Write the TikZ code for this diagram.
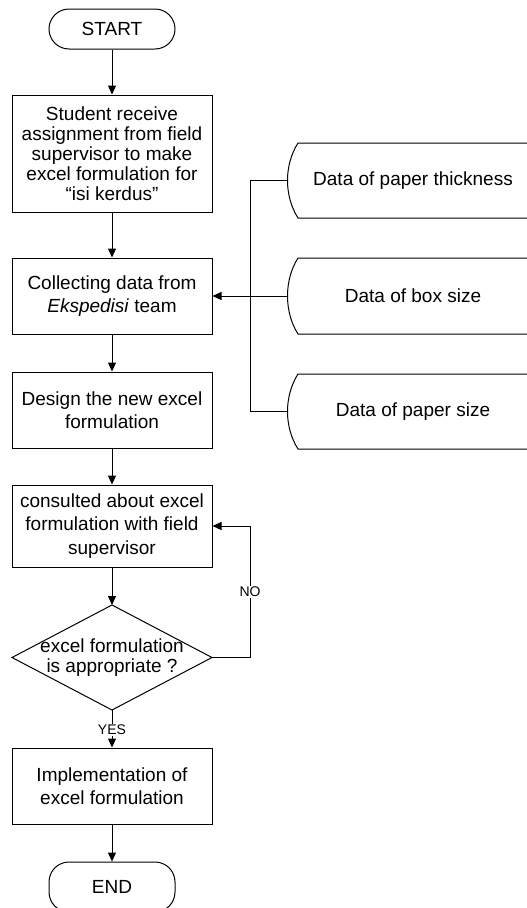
\documentclass[tikz,border=0pt]{standalone}
\usepackage{fontspec}
\setmainfont{Liberation Sans}
\usetikzlibrary{arrows.meta}
\begin{document}
\begin{tikzpicture}[x=1pt,y=-1pt,
  every node/.style={font=\fontsize{19}{23.5}\selectfont, align=center, inner sep=0pt},
  procbox/.style={draw, line width=1pt, minimum width=200pt},
  term/.style={draw, line width=1pt, rounded corners=20pt, minimum width=126pt},
  arr/.style={-{Triangle[length=9pt,width=8pt]}, line width=1pt},
  conn/.style={line width=1pt},
  lbl/.style={font=\fontsize{14}{16}\selectfont, fill=white, inner sep=1pt}]
\useasboundingbox (0,0) rectangle (527,908);
\clip (0,0) rectangle (527,908);

% main column
\node[term, minimum height=40pt] (start) at (112,29) {START};
\node[procbox, minimum height=117pt, font=\fontsize{19}{20}\selectfont] (b1) at (112,153.5)
  {Student receive\\assignment from field\\supervisor to make\\excel formulation for\\“isi kerdus”};
\node[procbox, minimum height=76pt] (b2) at (112,296) {Collecting data from\\\textit{Ekspedisi} team};
\node[procbox, minimum height=76pt] (b3) at (112,410) {Design the new excel\\formulation};
\node[procbox, minimum height=82pt] (b4) at (112,526) {consulted about excel\\formulation with field\\supervisor};

\coordinate (dtop) at (112,605);
\coordinate (dright) at (212,657.5);
\coordinate (dbot) at (112,710);
\coordinate (dleft) at (12,657.5);
\draw[conn] (dtop) -- (dright) -- (dbot) -- (dleft) -- cycle;
\node[font=\fontsize{19}{20}\selectfont] (dec) at (112,658) {excel formulation\\is appropriate ?};

\node[procbox, minimum height=76pt] (b5) at (112,786) {Implementation of\\excel formulation};
\node[term, minimum height=50pt] (end) at (112,887) {END};

% data sources
\draw[conn] (540,143) -- (298,143) .. controls (284,165) and (284,196) .. (298,218) -- (540,218);
\coordinate (d1w) at (287.5,180.5);
\node (d1) at (413,180.5) {Data of paper thickness};
\draw[conn] (540,258) -- (298,258) .. controls (284,280) and (284,312) .. (298,334) -- (540,334);
\coordinate (d2w) at (287.5,296);
\node (d2) at (413,296) {Data of box size};
\draw[conn] (540,374) -- (298,374) .. controls (284,396) and (284,427) .. (298,449) -- (540,449);
\coordinate (d3w) at (287.5,411.5);
\node (d3) at (413,411.5) {Data of paper size};

\coordinate (bus) at (250,0);
\coordinate (loop) at (250,0);

% connectors
\draw[arr] (start) -- (b1);
\draw[arr] (b1) -- (b2);
\draw[arr] (b2) -- (b3);
\draw[arr] (b3) -- (b4);
\draw[arr] (b4) -- (dtop);
\draw[arr] (dbot) -- (b5);
\draw[arr] (b5) -- (end);
\draw[conn] (d1w) -- (d1w -| bus) -- (d3w -| bus) -- (d3w);
\draw[arr] (d2w) -- (b2.east);
\draw[arr] (dright) -- (dright -| loop) -- (b4.east -| loop) -- (b4.east);
\node[lbl] (no) at (250,592) {NO};
\node[lbl] (yes) at (112,730) {YES};
\end{tikzpicture}
\end{document}
